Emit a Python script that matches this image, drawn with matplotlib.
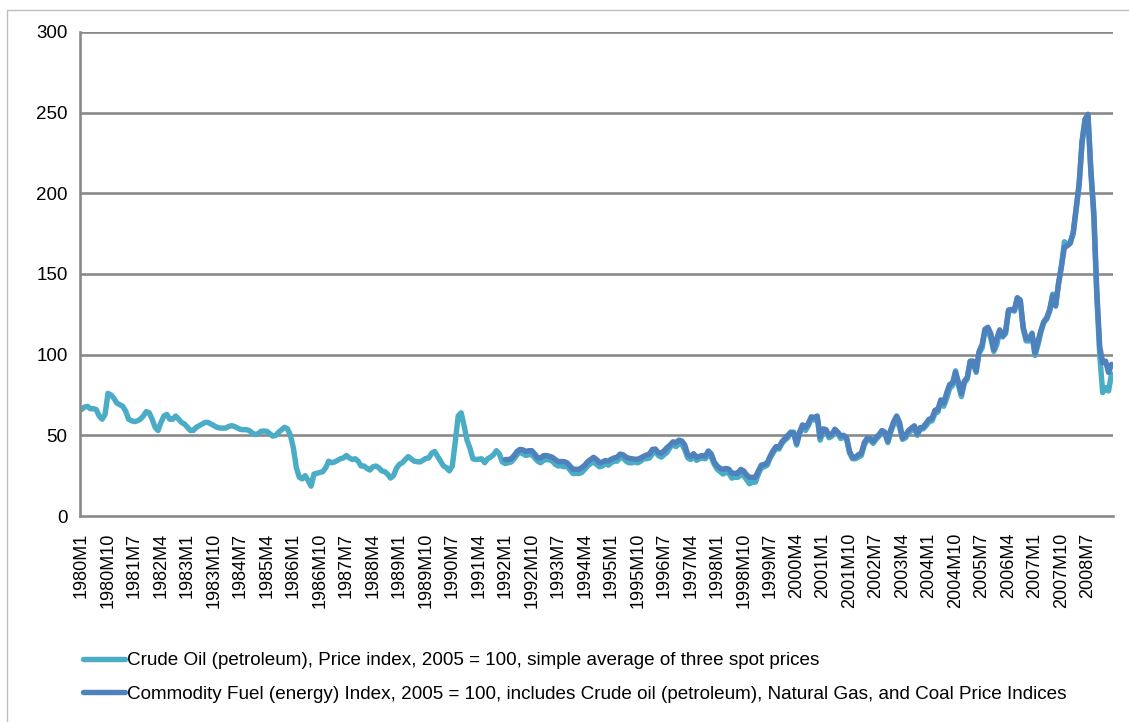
import numpy as np
import matplotlib
matplotlib.use("Agg")
import matplotlib.pyplot as plt
from matplotlib.patches import Rectangle

plt.rcParams['font.family'] = ['Liberation Sans', 'DejaVu Sans']

# monthly index values, 2005 = 100, 1980M1 .. 2009M3
crude_oil = [
    66, 67.5, 68, 66.5, 66.5, 66, 62, 60, 63, 76, 75, 73,                     # 1980
    70, 69, 68, 65, 60, 59, 58.5, 59, 60, 62, 64.7, 64,                       # 1981
    60, 55, 53, 58, 62, 63, 60, 60, 62, 60, 58, 57,                           # 1982
    55, 53, 53, 55, 56, 57, 58, 58, 57, 56, 55, 54.5,                         # 1983
    54.5, 54.5, 55.5, 56, 55.5, 54.5, 53.7, 53.5, 53.5, 53, 51.5, 50.5,       # 1984
    51, 52.5, 52.7, 52.5, 51, 49.5, 50, 52, 53.5, 55, 54, 50,                 # 1985
    42, 30, 24, 23, 25, 22, 18.5, 26, 26.5, 27, 27.5, 30,                     # 1986
    34, 33, 33.5, 34.5, 35.5, 36, 37.5, 36, 35, 35.5, 34, 31,                 # 1987
    31, 29.5, 28.5, 30.5, 31, 30, 28, 27.5, 26, 23.5, 25, 29.5,               # 1988
    32, 33, 35, 36.8, 35.5, 34, 33.7, 33.5, 34.5, 35.7, 36, 39,               # 1989
    40, 37, 34, 31, 30, 28, 31, 46, 62, 64, 56, 47,                           # 1990
    42, 35.5, 35, 35.2, 35.5, 33, 35.5, 36.5, 38, 40.5, 38.5, 33.5,           # 1991
    32.5, 33, 33.5, 35.5, 38, 39.5, 38.5, 37.5, 38, 38.2, 36, 34,             # 1992
    33, 34.5, 35, 34.8, 34, 32, 31, 31.2, 30.5, 31, 28.5, 26.3,               # 1993
    26.5, 26.3, 27, 29, 31, 32.5, 33.5, 32, 30.5, 31, 32.5, 31.5,             # 1994
    33, 34, 34, 36.2, 36, 34, 33, 33, 33.5, 33, 34, 35.5,                     # 1995
    35.5, 36, 38.5, 40.5, 37.5, 36.5, 38, 39.5, 42.5, 44.5, 43, 45,           # 1996
    44.5, 41, 36, 35, 37, 34.5, 35.5, 36, 35.5, 38.5, 36.5, 32,               # 1997
    29, 27.5, 26, 27, 26.5, 23.5, 24, 24, 25.5, 25, 22.5, 20,                 # 1998
    21, 21, 26, 30, 30.5, 31.5, 36, 39, 42, 41.5, 45, 47,                     # 1999
    48.5, 51.5, 52, 44, 51, 55, 53, 56, 60.5, 59.5, 61, 47,                   # 2000
    52.5, 52.5, 48.5, 49.5, 52.5, 51, 48, 49, 47.5, 39, 35.5, 35.5,           # 2001
    36.5, 37.5, 44, 47.5, 47, 45, 47.5, 49.5, 52.5, 51, 45.5, 52,             # 2002
    57, 59.5, 55, 47.5, 48.5, 51.5, 53, 55, 50, 54, 54, 56,                   # 2003
    58.5, 59, 63.5, 64.5, 71, 68, 73, 79, 81, 90, 81, 74,                     # 2004
    82.5, 85, 96, 95, 89, 101, 104, 115, 115, 110, 102, 106,                  # 2005
    114.5, 111, 113, 127, 127.5, 127, 135, 133, 116, 108.5, 108.5, 112.5,     # 2006
    99.5, 106, 114, 120, 122, 127, 137.5, 130, 144, 155, 170, 168,            # 2007
    170, 175, 190, 205, 232, 245, 248, 213, 185, 136, 100, 76.5,              # 2008
    79.5, 77.5, 88,                                                           # 2009
]

# fuel (energy) index starts 1992M1
fuel_start = 1992
fuel_index = [
    35, 35, 35.5, 37.5, 40, 41.3, 41, 40, 40.5, 40.5, 38.5, 36,               # 1992
    36, 37.4, 37.5, 37, 36.4, 35, 33.7, 33.8, 33.7, 33, 31, 28.9,             # 1993
    29, 28.9, 30, 31.5, 33.7, 35, 36.4, 35, 33, 33.5, 34.4, 34,               # 1994
    35.2, 36, 36.5, 38.4, 38, 36.5, 35.8, 35.5, 35.2, 35.2, 36, 37,           # 1995
    37.8, 38.5, 41.3, 41.5, 39.3, 39, 40.5, 42.5, 44, 46, 45.5, 47,           # 1996
    46.5, 44, 38, 37, 38.6, 36.5, 37, 37.5, 37.2, 40.3, 38.5, 33.5,           # 1997
    31, 29.5, 28.9, 29.5, 29, 26.4, 26.5, 26.5, 28.9, 28, 25.5, 24,           # 1998
    24, 24, 28, 31.5, 32, 33, 37, 40.5, 43, 42.5, 46, 48,                     # 1999
    50, 52, 51.5, 45, 52, 56.5, 55, 57.5, 61.5, 61, 62, 49,                   # 2000
    54, 53.5, 50, 50.7, 53.8, 52, 49.7, 50, 48.3, 40, 36.3, 36.5,             # 2001
    38, 39, 45.5, 48.3, 48, 46.2, 48.5, 50.5, 53, 52, 46.5, 53.5,             # 2002
    58.5, 62, 57.9, 48.3, 50, 53, 54.5, 55.9, 50.7, 54.8, 55, 57.5,           # 2003
    60, 60.5, 65.5, 66, 72, 70, 76.4, 81.5, 82.5, 89, 83, 76,                 # 2004
    83.6, 86, 95.9, 96, 90, 102, 106, 115.8, 117, 113, 103, 110,              # 2005
    115.4, 111.5, 114.4, 127.7, 128, 127.7, 135.3, 133.9, 117, 109.9, 109.9, 113.3,  # 2006
    101, 108, 115, 120.5, 123, 128, 136.5, 130.5, 144, 155, 166.5, 167.5,     # 2007
    169, 176, 191, 206, 232, 246, 249, 214, 188, 140, 105, 95,                # 2008
    96, 89, 94,                                                               # 2009
]

start_year = 1980
months = [f"{start_year + i // 12}M{i % 12 + 1}" for i in range(len(crude_oil))]
label_step = 9

crude_label = "Crude Oil (petroleum), Price index, 2005 = 100, simple average of three spot prices"
fuel_label = ("Commodity Fuel (energy) Index, 2005 = 100, includes Crude oil (petroleum), "
              "Natural Gas, and Coal Price Indices")

crude_color = "#4BACC6"
fuel_color = "#4F81BD"
grid_color = "#898989"

fig = plt.figure(figsize=(11.29, 7.22), dpi=100)
ax = fig.add_axes([0.0709, 0.2853, 0.9149, 0.6704])

x_crude = np.arange(len(crude_oil))
x_fuel = np.arange(len(fuel_index)) + (fuel_start - start_year) * 12

ax.plot(x_crude, crude_oil, color=crude_color, lw=3.9, label=crude_label,
        solid_joinstyle='round', solid_capstyle='round')
ax.plot(x_fuel, fuel_index, color=fuel_color, lw=3.9, label=fuel_label,
        solid_joinstyle='round', solid_capstyle='round')

ax.set_xlim(-0.5, len(crude_oil) - 0.5)
ax.set_ylim(0, 300)
ax.set_yticks(range(0, 301, 50))
for v in range(50, 301, 50):
    ax.axhline(v, color=grid_color, lw=1.9, zorder=0)

tick_pos = list(range(0, len(crude_oil), label_step))
ax.set_xticks(tick_pos)
ax.set_xticklabels([months[i] for i in tick_pos], rotation=90, fontsize=13,
                   va='top', ha='center')
ax.tick_params(axis='x', length=0, pad=12)
ax.tick_params(axis='y', length=0, pad=9, labelsize=13.5)

for s in ['top', 'right']:
    ax.spines[s].set_visible(False)
for s in ['left', 'bottom']:
    ax.spines[s].set_color(grid_color)
    ax.spines[s].set_linewidth(1.9)

# outer chart border
fig.patches.append(Rectangle((7 / 1129, -0.01), 1.0, 1 - 10 / 722 + 0.01,
                             transform=fig.transFigure, fill=False,
                             edgecolor="#BFBFBF", lw=1))

fig.legend(loc='upper left', bbox_to_anchor=(83 / 1129, 0.097), frameon=False,
           fontsize=13.6, handlelength=2.2, handletextpad=0.15, labelspacing=0.88,
           borderpad=0, borderaxespad=0)

fig.savefig("out.png", dpi=100)
